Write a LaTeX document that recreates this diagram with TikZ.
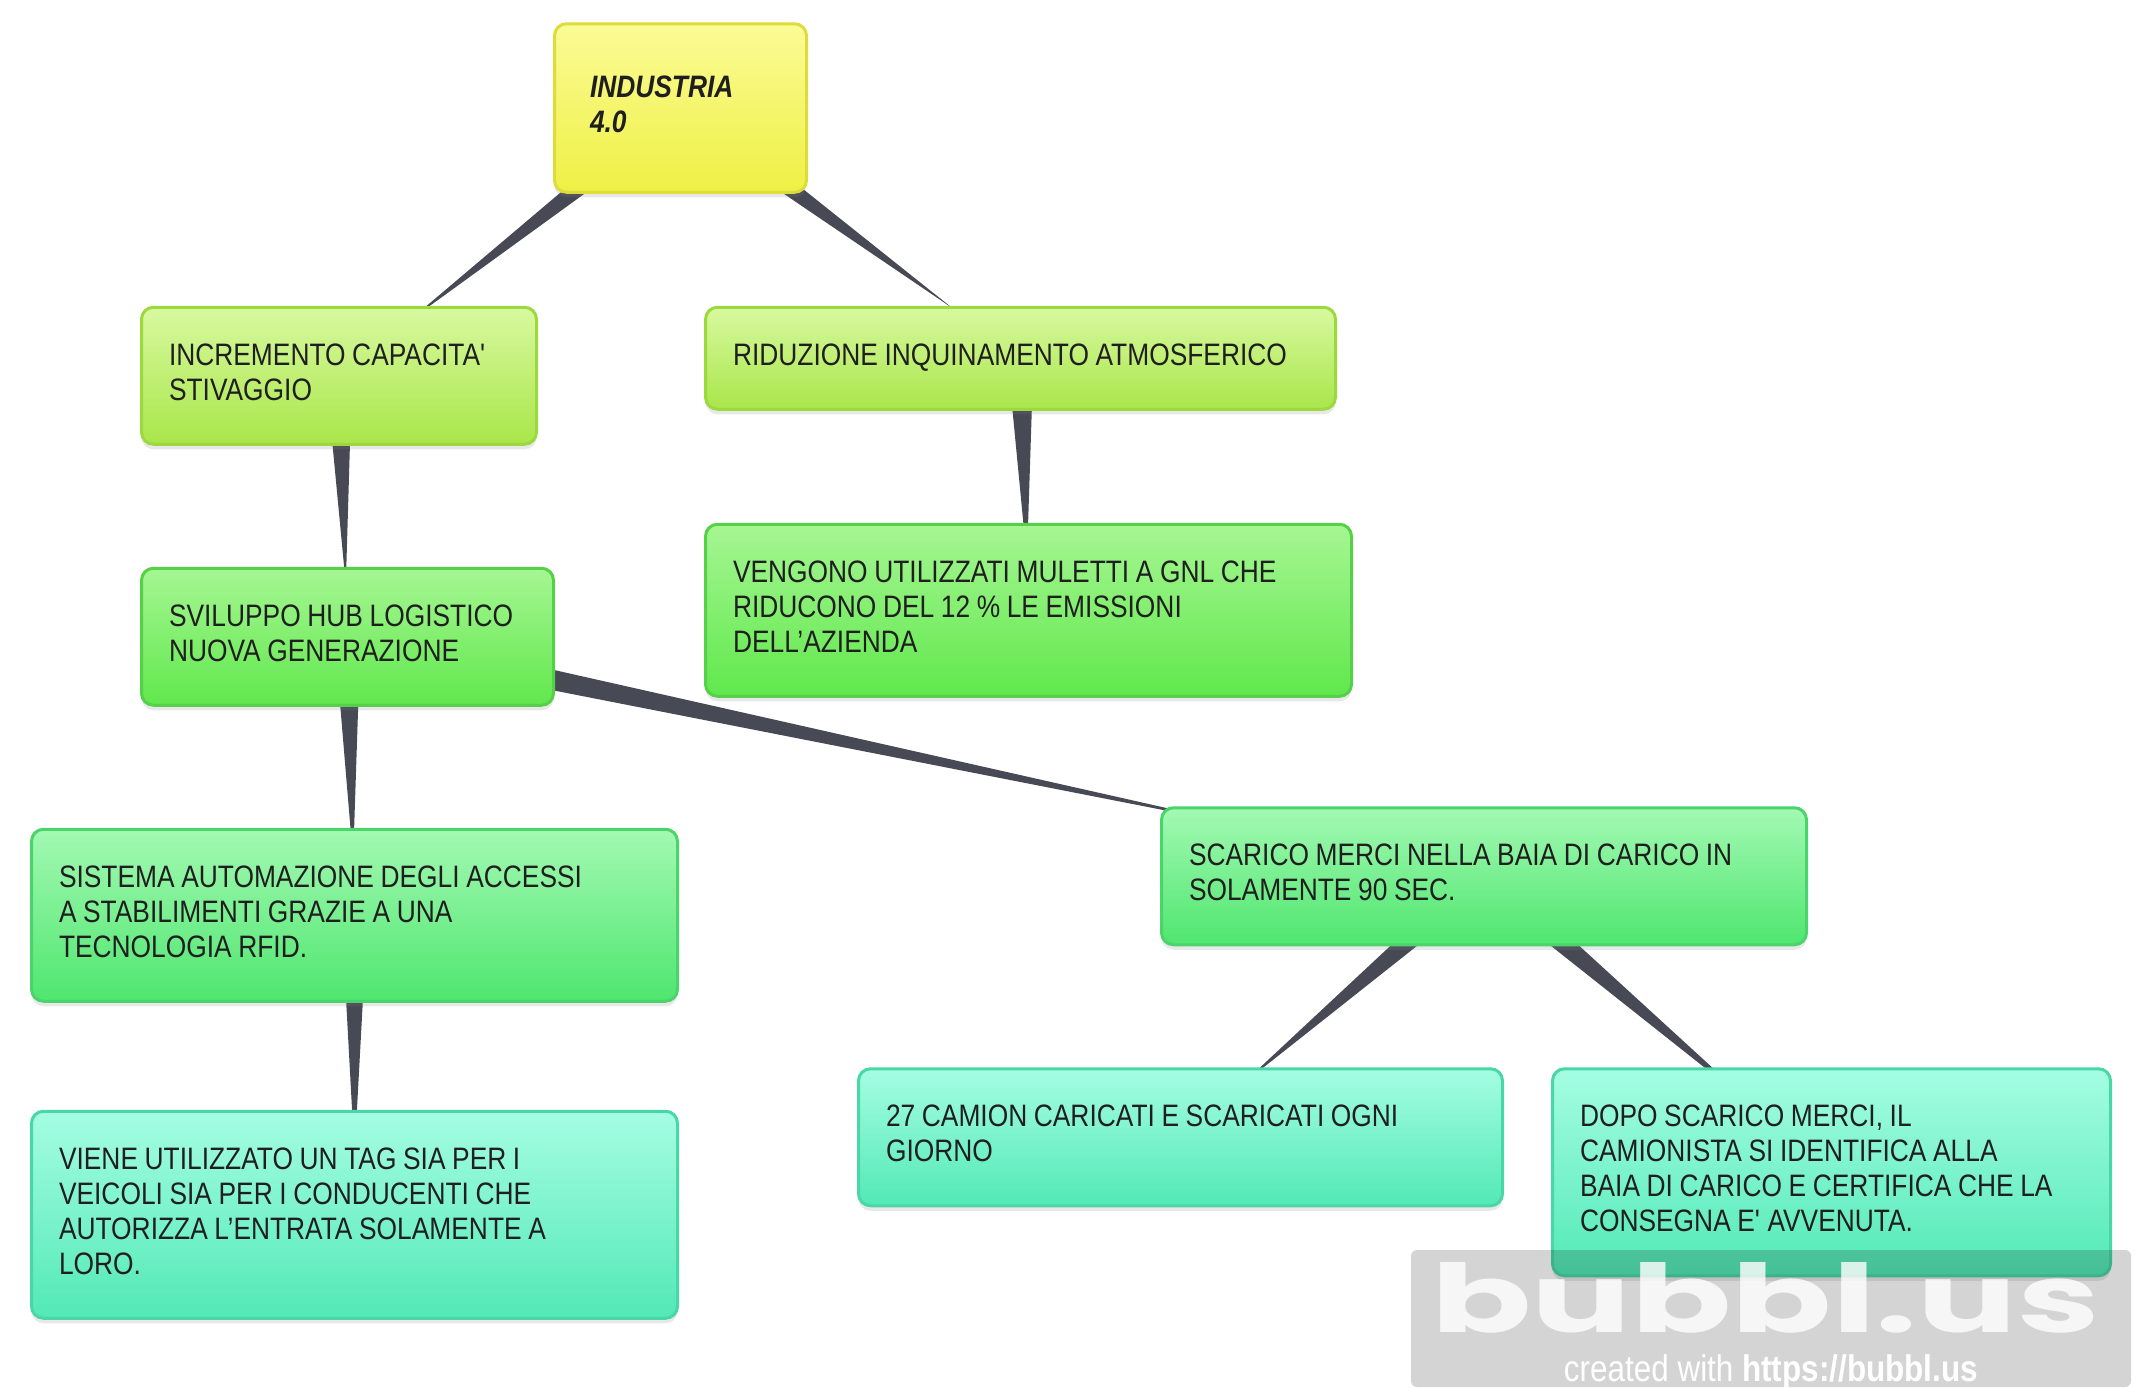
\documentclass[tikz,border=0pt]{standalone}
\usepackage{fontspec}
\setmainfont{Liberation Sans}[FakeStretch=0.85]
\newfontfamily\logofont{Poppins}
\usepackage{tikz}
\usetikzlibrary{positioning, calc, shadows, backgrounds}

\definecolor{rootTop}{HTML}{FBFB96}
\definecolor{rootBot}{HTML}{EFF044}
\definecolor{rootLine}{HTML}{DCDC3A}
\definecolor{limeTop}{HTML}{D8F9A0}
\definecolor{limeBot}{HTML}{A9E64A}
\definecolor{limeLine}{HTML}{9BD93E}
\definecolor{grassTop}{HTML}{A6F693}
\definecolor{grassBot}{HTML}{60E84C}
\definecolor{grassLine}{HTML}{55D048}
\definecolor{mintTop}{HTML}{A3F9B3}
\definecolor{mintBot}{HTML}{4FE66F}
\definecolor{mintLine}{HTML}{4BD46C}
\definecolor{aquaTop}{HTML}{A5FDE2}
\definecolor{aquaBot}{HTML}{52E9B6}
\definecolor{aquaLine}{HTML}{49D7A7}
\definecolor{linkCol}{HTML}{474A55}

\tikzset{
  bubble/.style={rectangle, rounded corners=6pt, line width=1.5pt, align=left,
    inner xsep=13.75pt, inner ysep=16.75pt, text=black!88,
    font=\fontsize{15.5}{17.5}\selectfont,
    drop shadow={shadow xshift=0pt, shadow yshift=-2.5pt, opacity=.18},
    execute at begin node={\hyphenpenalty=10000 \spaceskip=3.3pt plus 2pt minus .5pt\relax\strut},
    execute at end node=\strut},
  topic/.style={bubble, draw=rootLine, top color=rootTop, bottom color=rootBot,
    inner xsep=17.75pt, text width=90.5pt, minimum height=84.25pt,
    font=\fontsize{15.5}{17.5}\selectfont\bfseries\itshape},
  lime/.style={bubble, draw=limeLine, top color=limeTop, bottom color=limeBot},
  grass/.style={bubble, draw=grassLine, top color=grassTop, bottom color=grassBot},
  mint/.style={bubble, draw=mintLine, top color=mintTop, bottom color=mintBot},
  aqua/.style={bubble, draw=aquaLine, top color=aquaTop, bottom color=aquaBot},
  spoke/.style={fill=linkCol},
}

% tapered branch, wide at the parent
\newcommand{\branch}[2]{%
  \fill[spoke] ($(#1.center)!6.5pt!90:(#2.center)$) -- ($(#1.center)!.8!(#2.center)$)
    -- ($(#1.center)!6.5pt!-90:(#2.center)$) -- cycle;}

\begin{document}
\begin{tikzpicture}[x=0.5pt, y=-0.5pt]
  \useasboundingbox (0,0) rectangle (2156,1387);

  % Define nodes
  \node[topic] (ind) at (680.5,108) {INDUSTRIA\\4.0};
  \node[lime, text width=170pt, below=56pt of ind, xshift=-170.75pt] (incr)
    {INCREMENTO CAPACITA\textquotesingle\\STIVAGGIO};
  \node[lime, text width=287.5pt, below=56pt of ind, xshift=170pt] (ridu)
    {RIDUZIONE INQUINAMENTO ATMOSFERICO};
  \node[grass, text width=295.5pt, below=56pt of ridu, xshift=4pt] (gnl)
    {VENGONO UTILIZZATI MULETTI A GNL CHE\\RIDUCONO DEL 12 \% LE EMISSIONI\\DELL'AZIENDA};
  \node[grass, text width=178.5pt, below=60.5pt of incr, xshift=4.25pt] (hub)
    {SVILUPPO HUB LOGISTICO\\NUOVA GENERAZIONE};
  \node[mint, text width=295.5pt, below=60.5pt of hub, xshift=3.5pt] (rfid)
    {SISTEMA AUTOMAZIONE DEGLI ACCESSI\\A STABILIMENTI GRAZIE A UNA\\TECNOLOGIA RFID.};
  \node[aqua, text width=295.5pt, below=53.5pt of rfid] (tag)
    {VIENE UTILIZZATO UN TAG SIA PER I\\VEICOLI SIA PER I CONDUCENTI CHE\\AUTORIZZA L'ENTRATA SOLAMENTE A\\LORO.};
  \node[mint, text width=295pt, right=302.5pt of hub, yshift=-119.75pt] (baia)
    {SCARICO MERCI NELLA BAIA DI CARICO IN\\SOLAMENTE 90 SEC.};
  \node[aqua, text width=294.5pt, below=60.5pt of baia, xshift=-151.75pt] (camion)
    {27 CAMION CARICATI E SCARICATI OGNI\\GIORNO};
  \node[aqua, text width=251.5pt, below=60.5pt of baia, xshift=173.75pt] (dopo)
    {DOPO SCARICO MERCI, IL\\CAMIONISTA SI IDENTIFICA ALLA\\BAIA DI CARICO E CERTIFICA CHE LA\\CONSEGNA E\textquotesingle\ AVVENUTA.};

  % Connect the nodes
  \begin{scope}[on background layer]
    \branch{ind}{incr}
    \branch{ind}{ridu}
    \branch{incr}{hub}
    \branch{ridu}{gnl}
    \branch{hub}{rfid}
    \branch{hub}{baia}
    \branch{rfid}{tag}
    \branch{baia}{camion}
    \branch{baia}{dopo}
  \end{scope}

  % Watermark
  \fill[black, opacity=.17, rounded corners=3pt] (1411,1250) rectangle (2131,1387);
  \node[anchor=base west, inner sep=0, text=white, opacity=.8] (logo) at (1431,1332)
    {\resizebox{334pt}{35pt}{\logofont\bfseries bubbl.us}};
  \node[anchor=base, inner sep=0, text=white] (credit) at (1771,1381)
    {\fontsize{18.5}{19}\selectfont created with \textbf{https://bubbl.us}};

\end{tikzpicture}
\end{document}
